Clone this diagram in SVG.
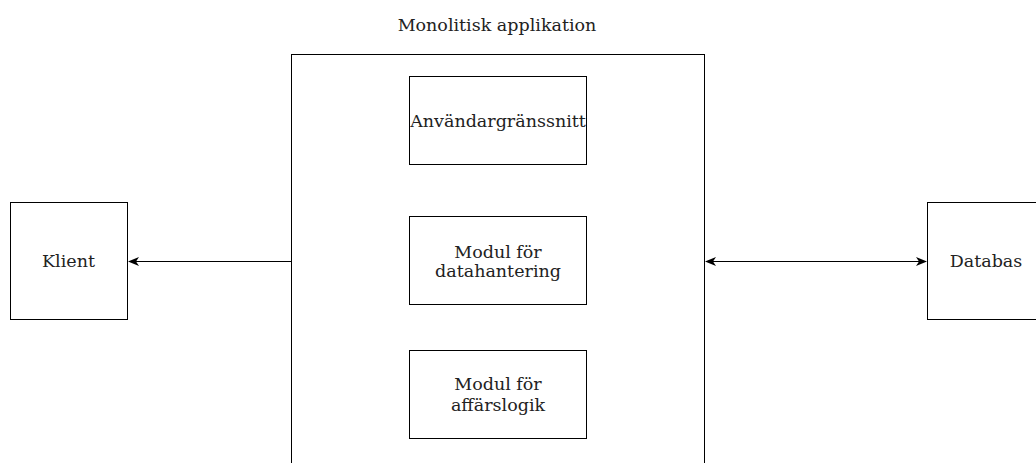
<svg xmlns="http://www.w3.org/2000/svg" width="1036" height="463" viewBox="0 0 1036 463">
  <style>
    .box { fill: #ffffff; stroke: #000000; stroke-width: 1; }
    .lbl { font-family: "DejaVu Serif", "Liberation Serif", serif; font-size: 17.5px; fill: #222222; text-anchor: middle; }
    .edge { fill: none; stroke: #000000; stroke-width: 1; }
  </style>
  <defs>
    <marker id="arrow" viewBox="0 0 11 9" refX="10" refY="4.5" markerWidth="11" markerHeight="9" markerUnits="userSpaceOnUse" orient="auto-start-reverse">
      <path d="M0,0 L11,4.5 L0,9 L3,4.5 Z" fill="#000000"/>
    </marker>
  </defs>
  <rect width="1036" height="463" fill="#ffffff"/>

  <!-- application container -->
  <g id="app">
    <text class="lbl" x="497" y="31">Monolitisk applikation</text>
    <rect class="box" x="291.5" y="54.5" width="413" height="420"/>
  </g>

  <g id="ui">
    <rect class="box" x="409.5" y="76.5" width="177" height="88"/>
    <text class="lbl" x="498" y="127">Användargränssnitt</text>
  </g>

  <g id="data">
    <rect class="box" x="409.5" y="216.5" width="177" height="88"/>
    <text class="lbl" x="498" y="257.5">Modul för</text>
    <text class="lbl" x="498" y="277">datahantering</text>
  </g>

  <g id="logic">
    <rect class="box" x="409.5" y="350.5" width="177" height="88"/>
    <text class="lbl" x="498" y="390">Modul för</text>
    <text class="lbl" x="498" y="410.5">affärslogik</text>
  </g>

  <g id="client">
    <rect class="box" x="10.5" y="202.5" width="117" height="117"/>
    <text class="lbl" x="68.5" y="267">Klient</text>
  </g>

  <g id="db">
    <rect class="box" x="927.5" y="202.5" width="117" height="117"/>
    <text class="lbl" x="986" y="267">Databas</text>
  </g>

  <!-- connectors -->
  <g id="edges">
    <line class="edge" x1="291" y1="261.5" x2="129" y2="261.5" marker-end="url(#arrow)"/>
    <line class="edge" x1="706" y1="261.5" x2="926" y2="261.5" marker-start="url(#arrow)" marker-end="url(#arrow)"/>
  </g>
</svg>
